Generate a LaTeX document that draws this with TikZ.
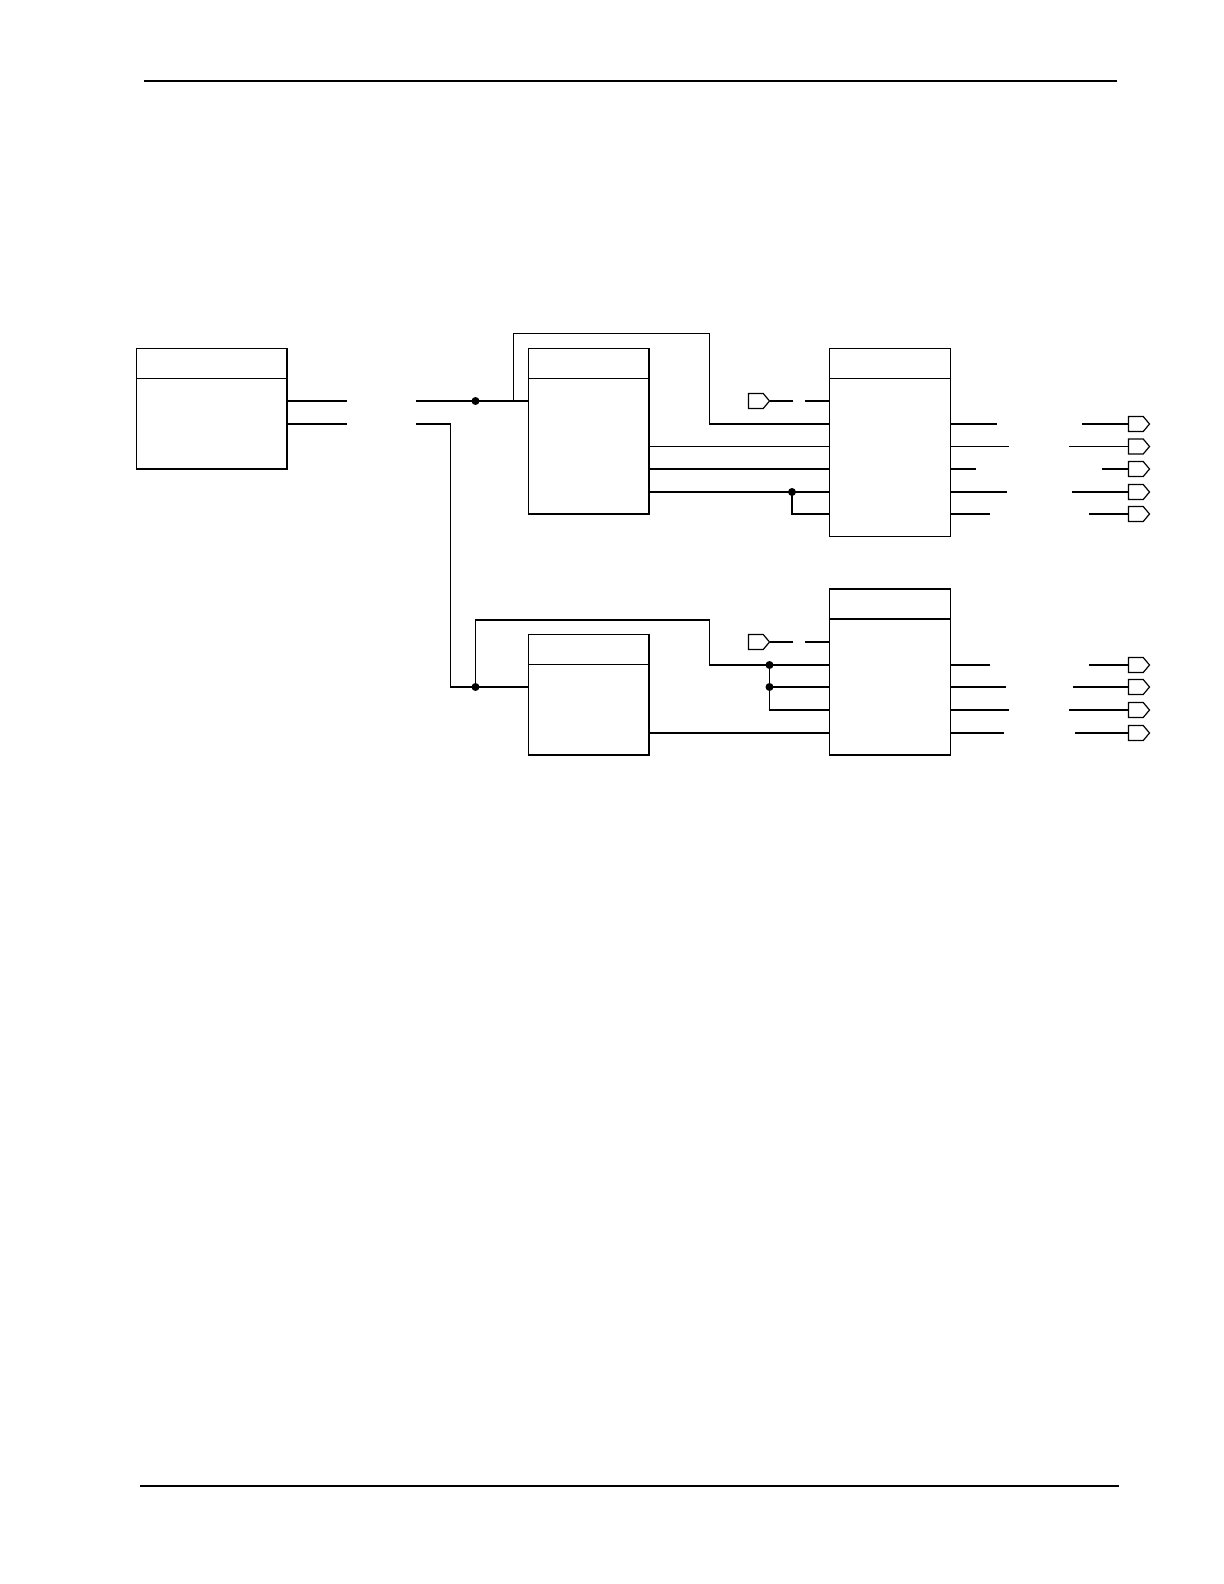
\documentclass[tikz,border=0pt]{standalone}
\usetikzlibrary{positioning, shapes.symbols, calc}

\begin{document}
\begin{tikzpicture}[
    x=0.5pt, y=-0.5pt,
    blk/.style={rectangle, draw, line width=0.75pt, inner sep=0pt, outer sep=0pt, anchor=north west},
    port/.style={signal, signal to=east, draw, line width=0.6pt, inner sep=0pt, outer sep=0pt, minimum width=10.5pt, minimum height=7.5pt, signal pointer angle=100, anchor=west},
    wire/.style={line width=0.6pt},
    dot/.style={circle, fill, inner sep=0pt, minimum size=4pt},
    rule/.style={line width=1.3pt}
]
    \useasboundingbox (0,0) rectangle (1224,1584);

    % page rules
    \draw[rule] (144,81) -- (1117,81);
    \draw[rule] (140,1486) -- (1119,1486);

    % blocks
    \node[blk, minimum width=75.25pt, minimum height=60.25pt] (srcblk) at (136.5,348.5) {};
    \node[blk, minimum width=60.25pt, minimum height=82.75pt] (procA) at (528.5,348.5) {};
    \node[blk, minimum width=60.5pt, minimum height=94pt] (drvA) at (829.5,348.5) {};
    \node[blk, minimum width=60.25pt, minimum height=60.25pt] (procB) at (528.5,634.5) {};
    \node[blk, minimum width=60.5pt, minimum height=83pt] (drvB) at (829.5,589) {};

    % header bars
    \draw[wire] ([yshift=-15pt]srcblk.north west) -- ([yshift=-15pt]srcblk.north east);
    \draw[wire] ([yshift=-15pt]procA.north west) -- ([yshift=-15pt]procA.north east);
    \draw[wire] ([yshift=-15pt]drvA.north west) -- ([yshift=-15pt]drvA.north east);
    \draw[wire] ([yshift=-15pt]procB.north west) -- ([yshift=-15pt]procB.north east);
    \draw[wire] ([yshift=-15pt]drvB.north west) -- ([yshift=-15pt]drvB.north east);

    % source outputs (broken)
    \coordinate (s1) at (347,401);
    \coordinate (s2) at (347,424);
    \coordinate (r1) at (416,401);
    \coordinate (r2) at (416,424);
    \coordinate (k2) at (450.5,687);
    \draw[wire] (srcblk.east |- s1) -- (s1);
    \draw[wire] (srcblk.east |- s2) -- (s2);
    \draw[wire] (r1) -- (procA.west |- r1);
    \draw[wire] (r2) -| (k2) -- (procB.west |- k2);

    % junctions
    \node[dot] (j1) at (475.5,401) {};
    \node[dot] (j2) at (475.5,687) {};
    \node[dot] (j3) at (769.5,665) {};
    \node[dot] (j4) at (769.5,687) {};
    \node[dot] (j5) at (792,492) {};

    % feed-around loops
    \coordinate (b1) at (513.5,401);
    \coordinate (t1) at (709.5,333.5);
    \coordinate (t2) at (709.5,424);
    \draw[wire] (b1) |- (t1) -- (t2) -- (drvA.west |- t2);
    \coordinate (t3) at (709.5,620);
    \coordinate (t4) at (709.5,665);
    \draw[wire] (j2.center) |- (t3) -- (t4) -- (drvB.west |- t4);

    % input ports
    \node[port] (inA) at (748.5,401) {};
    \node[port] (inB) at (748.5,642) {};
    \coordinate (ga) at (793,401);
    \coordinate (ha) at (805,401);
    \coordinate (gb) at (793,642);
    \coordinate (hb) at (805,642);
    \draw[wire] (inA.east) -- (ga);
    \draw[wire] (ha) -- (drvA.west |- ha);
    \draw[wire] (inB.east) -- (gb);
    \draw[wire] (hb) -- (drvB.west |- hb);

    % output pins
    \foreach \n/\yy/\ll/\rr in {1/424/997/1082, 2/446.5/1009/1069, 3/469/976/1102, 4/492/1007/1072, 5/514/990/1089} {
        \node[port] (pa\n) at (1128.5,\yy) {};
        \coordinate (la\n) at (\ll,\yy);
        \coordinate (ra\n) at (\rr,\yy);
        \draw[wire] (drvA.east |- la\n) -- (la\n);
        \draw[wire] (ra\n) -- (pa\n.west);
    }
    \foreach \n/\yy/\ll/\rr in {1/665/990/1089, 2/687/1006/1073, 3/710/1009/1069, 4/733/1004/1075} {
        \node[port] (pb\n) at (1128.5,\yy) {};
        \coordinate (lb\n) at (\ll,\yy);
        \coordinate (rb\n) at (\rr,\yy);
        \draw[wire] (drvB.east |- lb\n) -- (lb\n);
        \draw[wire] (rb\n) -- (pb\n.west);
    }

    % block to driver links
    \draw[wire] (procA.east |- pa2) -- (drvA.west |- pa2);
    \draw[wire] (procA.east |- pa3) -- (drvA.west |- pa3);
    \draw[wire] (procA.east |- j5) -- (drvA.west |- j5);
    \draw[wire] (j5.center) |- (drvA.west |- pa5);
    \draw[wire] (j4.center) -- (drvB.west |- j4);
    \draw[wire] (j3.center) |- (drvB.west |- pb3);
    \draw[wire] (procB.east |- pb4) -- (drvB.west |- pb4);

\end{tikzpicture}
\end{document}
